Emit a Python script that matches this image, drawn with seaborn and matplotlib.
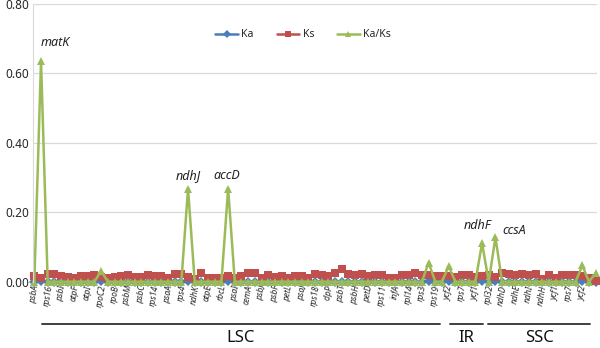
import numpy as np
import pandas as pd
import matplotlib
matplotlib.use('Agg')
import matplotlib.pyplot as plt
import matplotlib.transforms as mtransforms
import seaborn as sns

# gene order along the plastome (every other name is shown as a tick label)
GENES = ['psbA', 'matK', 'rps16', 'psbK', 'psbI', 'atpA', 'atpF', 'atpH', 'atpI', 'rps2',
         'rpoC2', 'rpoC1', 'rpoB', 'petN', 'psbM', 'psbD', 'psbC', 'psbZ', 'rps14', 'psaB',
         'psaA', 'ycf3', 'rps4', 'ndhJ', 'ndhK', 'ndhC', 'atpE', 'atpB', 'rbcL', 'accD',
         'psaI', 'ycf4', 'cemA', 'petA', 'psbJ', 'psbL', 'psbF', 'psbE', 'petL', 'petG',
         'psaJ', 'rpl33', 'rps18', 'rpl20', 'clpP', 'psbB', 'psbT', 'psbN', 'psbH', 'petB',
         'petD', 'rpoA', 'rps11', 'rpl36', 'infA', 'rps8', 'rpl14', 'rpl16', 'rps3', 'rpl22',
         'rps19', 'rpl2', 'ycf2', 'ndhB', 'rps7', 'rps12', 'ycf1', 'ndhF', 'rpl32', 'ccsA',
         'ndhD', 'psaC', 'ndhE', 'ndhG', 'ndhI', 'ndhA', 'ndhH', 'rps15', 'ycf1', 'ndhB',
         'rps7', 'rpl2', 'ycf2', 'rpl23', 'trnH']

KS = [0.016, 0.012, 0.021, 0.021, 0.016, 0.013, 0.010, 0.015, 0.015, 0.020,
      0.013, 0.010, 0.014, 0.015, 0.018, 0.013, 0.013, 0.019, 0.016, 0.015,
      0.011, 0.021, 0.022, 0.014, 0.008, 0.024, 0.012, 0.012, 0.010, 0.015,
      0.010, 0.016, 0.024, 0.024, 0.010, 0.020, 0.014, 0.017, 0.010, 0.017,
      0.016, 0.011, 0.021, 0.018, 0.016, 0.024, 0.038, 0.022, 0.018, 0.022,
      0.016, 0.018, 0.018, 0.012, 0.010, 0.020, 0.018, 0.024, 0.019, 0.019,
      0.016, 0.016, 0.017, 0.013, 0.018, 0.018, 0.014, 0.016, 0.018, 0.014,
      0.026, 0.022, 0.018, 0.022, 0.020, 0.022, 0.008, 0.020, 0.010, 0.018,
      0.018, 0.020, 0.016, 0.012, 0.003]

KAKS_PEAKS = {1: 0.635, 10: 0.031, 23: 0.268, 29: 0.268, 59: 0.055, 62: 0.045,
              67: 0.111, 69: 0.128, 82: 0.047, 84: 0.025}
KA_PEAKS = {1: 0.002, 10: 0.002, 23: 0.002, 29: 0.002, 59: 0.002, 62: 0.002,
            67: 0.002, 69: 0.002, 82: 0.002}

n = len(GENES)
KA = [KA_PEAKS.get(i, 0.0) for i in range(n)]
KAKS = [KAKS_PEAKS.get(i, 0.0) for i in range(n)]

LABELLED = {'matK': (1, 0.635), 'ndhJ': (23, 0.268), 'accD': (29, 0.268),
            'ndhF': (67, 0.111), 'ccsA': (69, 0.128)}

REGIONS = ['LSC', 'IR', 'SSC']
REGION_SPANS = [(1.15, 60.7), (62.2, 67.2), (67.9, 83.2)]

df = pd.DataFrame({'idx': np.arange(n), 'Ka': KA, 'Ks': KS, 'Ka/Ks': KAKS})
df_long = df.melt(id_vars='idx', var_name='series', value_name='value')

palette = {'Ka': '#4a7ebb', 'Ks': '#c0504d', 'Ka/Ks': '#9bbb59'}
markers = {'Ka': 'D', 'Ks': 's', 'Ka/Ks': '^'}

sns.set_style('white')
plt.rcParams['font.family'] = ['Noto Sans', 'DejaVu Sans']

fig = plt.figure(figsize=(6, 3.48), dpi=100)
ax = fig.add_axes([0.055, 0.1905, 0.94, 0.7985])

sns.lineplot(data=df_long, x='idx', y='value', hue='series', style='series',
             hue_order=['Ka', 'Ks', 'Ka/Ks'], palette=palette, markers=markers,
             dashes=False, markersize=5.5, linewidth=1.8, markeredgewidth=0,
             ax=ax, legend=True)
for ln in ax.lines:
    ln.set_clip_on(False)

ax.set_xlim(-0.2, 84.2)
ax.set_ylim(0, 0.8)
ax.set_yticks([0, 0.2, 0.4, 0.6, 0.8])
ax.set_yticklabels([f'{v:.2f}' for v in [0, 0.2, 0.4, 0.6, 0.8]], fontsize=8.5)
ax.yaxis.grid(True, color='#d9d9d9', linewidth=0.9)
ax.set_axisbelow(True)
ticks = list(range(0, 83, 2))
ax.set_xticks(ticks)
ax.set_xticklabels([GENES[i] for i in ticks], rotation=80, fontsize=6,
                   style='italic', va='top', ha='center')
ax.tick_params(axis='both', length=0, pad=3)
ax.tick_params(axis='x', pad=2)
ax.set_xlabel('')
ax.set_ylabel('')
for s in ['top', 'right', 'bottom']:
    ax.spines[s].set_visible(False)
ax.spines['left'].set_color('#d9d9d9')

# gene name annotations on the peaks
offsets = {'matK': (2.1, 0.035), 'ndhJ': (0, 0.019), 'accD': (-0.2, 0.019),
           'ndhF': (-0.7, 0.032), 'ccsA': (2.8, 0.0)}
for name, (i, v) in LABELLED.items():
    dx, dy = offsets[name]
    ax.text(i + dx, v + dy, name, style='italic', fontsize=9, ha='center',
            va='bottom', color='#222222')

# region bars under the axis
trans = mtransforms.blended_transform_factory(ax.transData, ax.transAxes)
for reg, (x0, x1) in zip(REGIONS, REGION_SPANS):
    ax.plot([x0, x1], [-0.152, -0.152], color='#404040', lw=1.4,
            transform=trans, clip_on=False)
    ax.text((x0 + x1) / 2, -0.175, reg, fontsize=12, ha='center', va='top',
            transform=trans, color='#111111')

ax.get_legend().remove()
handles, labels = ax.get_legend_handles_labels()
fig.legend(handles, labels, loc='center', bbox_to_anchor=(0.505, 0.9), ncol=3,
           frameon=False, fontsize=7.5, handlelength=2.2, columnspacing=2.2,
           handletextpad=0.3, markerscale=0.8)

fig.savefig('out.png', dpi=100)
